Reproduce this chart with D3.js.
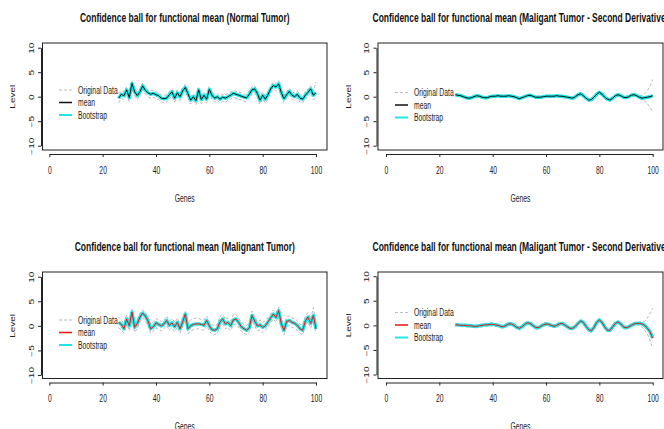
<!DOCTYPE html>
<html>
<head>
<meta charset="utf-8">
<script src="https://cdn.jsdelivr.net/npm/d3@7"></script>
<style>
  body { margin: 0; background: #fff; }
  svg { display: block; }
  text { font-family: Arial, "Liberation Sans", sans-serif; fill: #222; }
</style>
</head>
<body>
<svg id="chart" width="664" height="429"></svg>
<script>
var genes = d3.range(26, 101);
var xTicks = [0, 20, 40, 60, 80, 100];
var yTicks = [-10, -5, 0, 5, 10];
var legendLabels = ["Original Data", "mean", "Bootstrap"];
var titles = [
    "Confidence ball for functional mean (Normal Tumor)",
    "Confidence ball for functional mean (Maligant Tumor - Second Derivative)",
    "Confidence ball for functional mean (Malignant Tumor)",
    "Confidence ball for functional mean (Maligant Tumor - Second Derivative)"
];

// normal tumor
var normalMean = [
    -0.3, 0.5, 0.2, 1.4, -0.2, 2.7, 1.0, 0.2, 1.0, 2.2,
    1.3, 0.8, 0.5, 0.7, 0.4, 0.2, -0.3, -0.4, -0.3, 0.4,
    1.0, -0.3, 0.8, 0.0, 1.2, 1.9, 0.6, -0.7, 0.0, -0.8,
    1.4, -0.6, 0.3, -0.5, 1.5, 0.3, -0.3, 0.0, -0.5, -0.1,
    -0.3, 0.0, 0.3, 0.7, 0.5, 0.3, 0.1, -0.1, -0.2, 0.5,
    1.4, 1.6, 0.7, -0.7, 0.3, -0.5, 0.4, 1.6, 2.3, 2.0,
    2.6, 0.8, -0.4, 0.4, 1.1, 0.3, 0.0, 0.5, -0.3, -0.5,
    0.3, 0.9, 1.6, 0.3, 0.8
];
var normalOrigA = [
    0.6, 1.2, 0.9, 2.0, 0.5, 3.3, 1.6, 1.0, 1.5, 2.8,
    2.0, 1.3, 1.2, 1.3, 1.0, 0.9, 0.4, 0.2, 0.5, 1.0,
    1.6, 0.4, 1.4, 0.7, 1.8, 2.5, 1.2, 0.0, 0.6, 0.0,
    2.0, 0.1, 1.0, 0.2, 2.1, 0.9, 0.4, 0.6, 0.2, 0.5,
    0.4, 0.6, 1.0, 1.3, 1.1, 0.9, 0.8, 0.5, 0.5, 1.2,
    2.0, 2.2, 1.3, 0.0, 1.0, 0.2, 1.1, 2.2, 3.0, 2.7,
    3.3, 1.5, 0.3, 1.1, 1.7, 1.0, 0.7, 1.2, 0.4, 0.3,
    1.0, 1.6, 2.3, 1.2, 3.0
];
var normalOrigB = [
    -1.2, -0.3, -0.6, 0.6, -1.0, 1.8, 0.2, -0.6, 0.3, 1.4,
    0.6, 0.0, -0.3, -0.1, -0.4, -0.6, -1.1, -1.2, -1.1, -0.4,
    0.2, -1.1, 0.0, -0.8, 0.4, 1.1, -0.2, -1.5, -0.8, -1.6,
    0.6, -1.4, -0.5, -1.3, 0.7, -0.5, -1.1, -0.8, -1.3, -0.9,
    -1.1, -0.8, -0.5, -0.1, -0.3, -0.5, -0.7, -0.9, -1.0, -0.3,
    0.6, 0.8, -0.1, -1.5, -0.5, -1.3, -0.4, 0.8, 1.5, 1.2,
    1.8, 0.0, -1.2, -0.4, 0.3, -0.5, -0.8, -0.3, -1.1, -1.3,
    -0.5, 0.1, 0.8, -0.6, -0.2
];

// malignant, second derivative (top right)
var derivMeanA = [
    0.4, 0.3, 0.2, 0.0, -0.2, -0.3, -0.2, 0.0, 0.2, 0.1,
    -0.1, -0.2, -0.2, 0.0, 0.1, 0.1, 0.2, 0.1, 0.1, 0.1,
    0.2, 0.1, 0.0, -0.2, -0.4, -0.2, 0.0, 0.2, 0.3, 0.1,
    -0.1, -0.1, -0.1, 0.0, 0.1, 0.1, 0.1, 0.1, 0.2, 0.1,
    0.1, 0.0, -0.1, -0.2, -0.3, 0.0, 0.4, 0.6, 0.2, -0.3,
    -0.7, -0.6, -0.1, 0.5, 0.9, 0.5, -0.1, -0.5, -0.7, -0.3,
    0.2, 0.4, 0.2, -0.1, -0.2, 0.0, 0.3, 0.4, 0.2, -0.1,
    -0.3, -0.2, -0.1, 0.0, 0.2
];
var derivOrigA1 = [
    0.6, 0.5, 0.4, 0.2, 0.0, -0.1, 0.0, 0.2, 0.4, 0.3,
    0.1, 0.0, 0.0, 0.2, 0.3, 0.3, 0.4, 0.3, 0.3, 0.3,
    0.4, 0.3, 0.2, 0.0, -0.2, 0.0, 0.2, 0.4, 0.5, 0.3,
    0.1, 0.1, 0.1, 0.2, 0.3, 0.3, 0.3, 0.3, 0.4, 0.3,
    0.3, 0.2, 0.1, 0.0, -0.1, 0.2, 0.6, 0.8, 0.4, -0.1,
    -0.5, -0.4, 0.1, 0.7, 1.1, 0.7, 0.1, -0.3, -0.5, -0.1,
    0.4, 0.6, 0.4, 0.1, 0.1, 0.3, 0.6, 0.7, 0.5, 0.3,
    0.2, 0.6, 1.2, 2.2, 3.5
];
var derivOrigA2 = [
    0.2, 0.1, 0.0, -0.2, -0.4, -0.5, -0.4, -0.2, 0.0, -0.1,
    -0.3, -0.4, -0.4, -0.2, -0.1, -0.1, 0.0, -0.1, -0.1, -0.1,
    0.0, -0.1, -0.2, -0.4, -0.6, -0.4, -0.2, 0.0, 0.1, -0.1,
    -0.3, -0.3, -0.3, -0.2, -0.1, -0.1, -0.1, -0.1, 0.0, -0.1,
    -0.1, -0.2, -0.3, -0.4, -0.5, -0.2, 0.2, 0.4, 0.0, -0.5,
    -0.9, -0.8, -0.3, 0.3, 0.7, 0.3, -0.3, -0.7, -0.9, -0.5,
    0.0, 0.2, 0.0, -0.3, -0.4, -0.2, 0.1, 0.2, 0.0, -0.4,
    -0.7, -0.9, -1.4, -2.2, -3.0
];

// malignant tumor
var malignantMean = [
    0.7, 0.3, -0.6, 1.4, 0.0, 2.8, -0.3, 0.5, 1.8, 2.6,
    2.0, 1.0, -0.6, -0.2, 0.6, 0.3, 0.0, 0.4, 1.1, 0.1,
    0.6, -0.2, 0.7, -0.6, 0.8, 2.4, -0.6, 0.0, 0.3, 0.4,
    0.4, 0.3, 0.1, 1.1, 0.0, -0.8, -0.9, -0.6, 0.8, 1.4,
    0.4, 0.7, 0.0, 1.2, 1.4, 0.7, -0.2, -0.6, -0.9, -0.4,
    2.1, 1.0, 0.0, 0.2, -0.3, 0.0, 0.8, 1.6, 2.4, 1.7,
    3.1, 0.4, -0.9, 0.9, 1.1, 0.7, 0.5, 0.1, -0.6, -0.9,
    1.0, 1.8, 0.5, 2.1, -0.6
];
var malignantOrigA = [
    1.8, 1.2, 0.4, 2.2, 1.0, 3.4, 0.6, 1.3, 2.6, 3.2,
    2.8, 1.8, 0.3, 0.7, 1.5, 1.2, 0.9, 1.2, 2.0, 1.0,
    1.5, 0.7, 1.6, 0.3, 1.7, 3.0, 0.5, 1.2, 1.4, 1.6,
    1.5, 1.3, 1.2, 2.0, 0.8, 0.2, 0.0, 0.4, 1.9, 2.4,
    1.4, 1.6, 1.0, 2.2, 2.3, 1.6, 0.7, 0.3, 0.1, 0.6,
    3.0, 1.9, 0.9, 1.2, 0.7, 1.0, 1.7, 2.5, 3.2, 2.6,
    3.8, 1.4, 0.1, 1.8, 2.0, 1.6, 1.5, 1.0, 0.3, 0.2,
    2.0, 2.7, 1.4, 3.7, 0.5
];
var malignantOrigB = [
    -0.4, -0.8, -1.5, 0.4, -1.0, 1.8, -1.3, -0.5, 0.8, 1.6,
    1.0, 0.0, -1.5, -1.1, -0.4, -0.7, -1.0, -0.6, 0.1, -0.9,
    -0.4, -1.2, -0.3, -1.5, -0.2, 1.4, -1.6, -1.1, -0.8, -0.6,
    -0.6, -0.8, -0.9, 0.0, -1.0, -1.8, -1.8, -1.5, -0.2, 0.4,
    -0.6, -0.3, -1.0, 0.2, 0.4, -0.3, -1.1, -1.5, -1.8, -1.3,
    1.1, 0.0, -1.0, -0.8, -1.3, -1.0, -0.2, 0.6, 1.4, 0.7,
    2.1, -0.6, -1.8, -0.1, 0.1, -0.3, -0.5, -0.9, -1.5, -1.8,
    0.0, 0.8, -0.5, 1.0, -1.5
];

// malignant, second derivative (bottom right)
var derivMeanB = [
    0.1, 0.1, 0.0, 0.0, 0.0, -0.1, -0.1, -0.2, -0.2, -0.1,
    0.0, 0.1, 0.1, 0.2, 0.2, 0.1, 0.0, -0.2, -0.3, 0.0,
    0.3, 0.3, 0.0, -0.4, -0.6, -0.3, 0.2, 0.5, 0.4, 0.0,
    -0.4, -0.5, -0.2, 0.1, 0.3, 0.2, 0.0, -0.2, 0.0, 0.3,
    0.4, 0.1, -0.3, -0.6, -0.6, -0.2, 0.4, 0.9, 0.6, -0.2,
    -0.9, -1.1, -0.4, 0.6, 1.1, 0.6, -0.3, -1.0, -1.0, -0.3,
    0.4, 0.7, 0.3, -0.3, -0.5, -0.3, 0.0, 0.3, 0.4, 0.4,
    0.3, 0.0, -0.6, -1.3, -2.6
];
var derivOrigB1 = [
    0.3, 0.3, 0.2, 0.2, 0.2, 0.1, 0.1, 0.0, 0.1, 0.2,
    0.3, 0.4, 0.4, 0.5, 0.5, 0.4, 0.3, 0.1, 0.0, 0.3,
    0.6, 0.6, 0.3, -0.1, -0.3, 0.0, 0.5, 0.8, 0.7, 0.3,
    -0.1, -0.2, 0.1, 0.4, 0.6, 0.5, 0.3, 0.1, 0.3, 0.6,
    0.7, 0.4, 0.0, -0.3, -0.3, 0.1, 0.7, 1.1, 0.8, 0.1,
    -0.6, -0.8, -0.1, 0.9, 1.3, 0.9, 0.0, -0.7, -0.7, 0.0,
    0.7, 0.9, 0.6, 0.0, -0.2, 0.0, 0.3, 0.6, 0.7, 0.7,
    0.7, 0.8, 1.5, 2.5, 3.5
];
var derivOrigB2 = [
    -0.1, -0.1, -0.2, -0.3, -0.3, -0.4, -0.4, -0.5, -0.5, -0.4,
    -0.3, -0.2, -0.2, -0.1, -0.1, -0.2, -0.3, -0.5, -0.6, -0.3,
    0.0, 0.0, -0.3, -0.7, -0.9, -0.6, -0.1, 0.2, 0.1, -0.3,
    -0.7, -0.8, -0.5, -0.2, 0.0, -0.1, -0.3, -0.5, -0.3, 0.0,
    0.1, -0.2, -0.6, -0.9, -0.9, -0.5, 0.1, 0.6, 0.3, -0.5,
    -1.2, -1.4, -0.7, 0.3, 0.8, 0.3, -0.6, -1.3, -1.3, -0.6,
    0.1, 0.4, 0.0, -0.6, -0.8, -0.6, -0.3, 0.0, 0.1, 0.0,
    -0.4, -1.0, -1.8, -3.0, -4.7
];

var squeeze = 0.68;   // the source picture is squashed sideways

var panels = [
    { title: titles[0], mean: normalMean, orig: [normalOrigA, normalOrigB], meanColor: "#111",
      box: [42.5, 43, 327, 150], xr: [49.3, 316], yr: [145.7, 47.7], axisY: 154, axisX: 41, legend: [59, 90], titleY: 18, labelY: 198 },
    { title: titles[1], mean: derivMeanA, orig: [derivOrigA1, derivOrigA2], meanColor: "#111",
      box: [378, 43, 663, 150], xr: [386, 652.7], yr: [145.7, 47.7], axisY: 154, axisX: 376.5, legend: [395, 92.5], titleY: 18, labelY: 198 },
    { title: titles[2], mean: malignantMean, orig: [malignantOrigA, malignantOrigB], meanColor: "#ee1111",
      box: [42.5, 272, 327, 378.5], xr: [49.3, 316], yr: [375, 276.7], axisY: 382.5, axisX: 41, legend: [59, 320], titleY: 247, labelY: 426 },
    { title: titles[3], mean: derivMeanB, orig: [derivOrigB1, derivOrigB2], meanColor: "#ee1111",
      box: [378, 272, 663, 378.5], xr: [386, 652.7], yr: [374.5, 276.2], axisY: 382.5, axisX: 376.5, legend: [395, 312.5], titleY: 247, labelY: 426 }
];

var svg = d3.select("#chart");

var addText = function(g, x, y, str, size, extra) {
    return g.append("text")
        .attr("transform", "translate(" + x + "," + y + ") scale(" + squeeze + ",1)" + (extra || ""))
        .attr("text-anchor", "middle")
        .attr("dy", "0.35em")
        .attr("font-size", size)
        .text(str);
};

panels.forEach(function(p) {
    var g = svg.append("g");
    var x = d3.scaleLinear().domain([0, 100]).range(p.xr);
    var y = d3.scaleLinear().domain([-10, 10]).range(p.yr);
    var line = d3.line()
        .x(function(d, i) { return x(genes[i]); })
        .y(function(d) { return y(d); });

    g.append("rect")
        .attr("x", p.box[0]).attr("y", p.box[1])
        .attr("width", p.box[2] - p.box[0]).attr("height", p.box[3] - p.box[1])
        .attr("fill", "none").attr("stroke", "#222").attr("stroke-width", 1);

    var xAxis = g.append("g")
        .attr("transform", "translate(0," + p.axisY + ")")
        .call(d3.axisBottom(x).tickValues(xTicks).tickSize(3).tickSizeOuter(0));
    xAxis.selectAll("text")
        .attr("y", 16.5).attr("dy", "0.35em")
        .attr("font-size", 10).attr("font-family", null)
        .attr("transform", "scale(" + squeeze + ",1)");

    var yAxis = g.append("g")
        .attr("transform", "translate(" + p.axisX + ",0)")
        .call(d3.axisLeft(y).tickValues(yTicks).tickSize(3).tickSizeOuter(0));
    yAxis.selectAll("text")
        .attr("x", 0).attr("dy", "0.35em")
        .attr("text-anchor", "middle")
        .attr("font-size", 10).attr("font-family", null)
        .attr("transform", "translate(-9.5,0) scale(" + squeeze + ",1) rotate(-90)");
    g.selectAll(".domain, .tick line").attr("stroke", "#222");
    g.selectAll(".tick text").attr("fill", "#222");

    addText(g, (p.box[0] + p.box[2]) / 2, p.titleY, p.title, 12.5).attr("font-weight", "bold").style("fill", "#111");
    addText(g, (p.box[0] + p.box[2]) / 2, p.labelY, "Genes", 10);
    addText(g, p.axisX - 28, (p.yr[0] + p.yr[1]) / 2, "Level", 10, " rotate(-90)");

    // original data
    p.orig.forEach(function(s) {
        g.append("path")
            .attr("d", line(s))
            .attr("fill", "none")
            .attr("stroke", "#b8b8b8")
            .attr("stroke-width", 1)
            .attr("stroke-dasharray", "3,2");
    });
    // bootstrap
    g.append("path")
        .attr("d", line(p.mean))
        .attr("fill", "none")
        .attr("stroke", "#22e6e6")
        .attr("stroke-width", 3.5)
        .attr("stroke-linejoin", "round");
    // mean
    g.append("path")
        .attr("d", line(p.mean))
        .attr("fill", "none")
        .attr("stroke", p.meanColor)
        .attr("stroke-width", 1);

    // legend
    var styles = [
        { stroke: "#bbb", width: 1, dash: "3,2" },
        { stroke: p.meanColor, width: 1.5, dash: null },
        { stroke: "#22e6e6", width: 2, dash: null }
    ];
    legendLabels.forEach(function(lbl, i) {
        var ly = p.legend[1] + i * 12.5;
        g.append("line")
            .attr("x1", p.legend[0]).attr("x2", p.legend[0] + 13)
            .attr("y1", ly).attr("y2", ly)
            .attr("stroke", styles[i].stroke)
            .attr("stroke-width", styles[i].width)
            .attr("stroke-dasharray", styles[i].dash);
        addText(g, p.legend[0] + 19, ly, lbl, 10).attr("text-anchor", "start");
    });
});
</script>
</body>
</html>
